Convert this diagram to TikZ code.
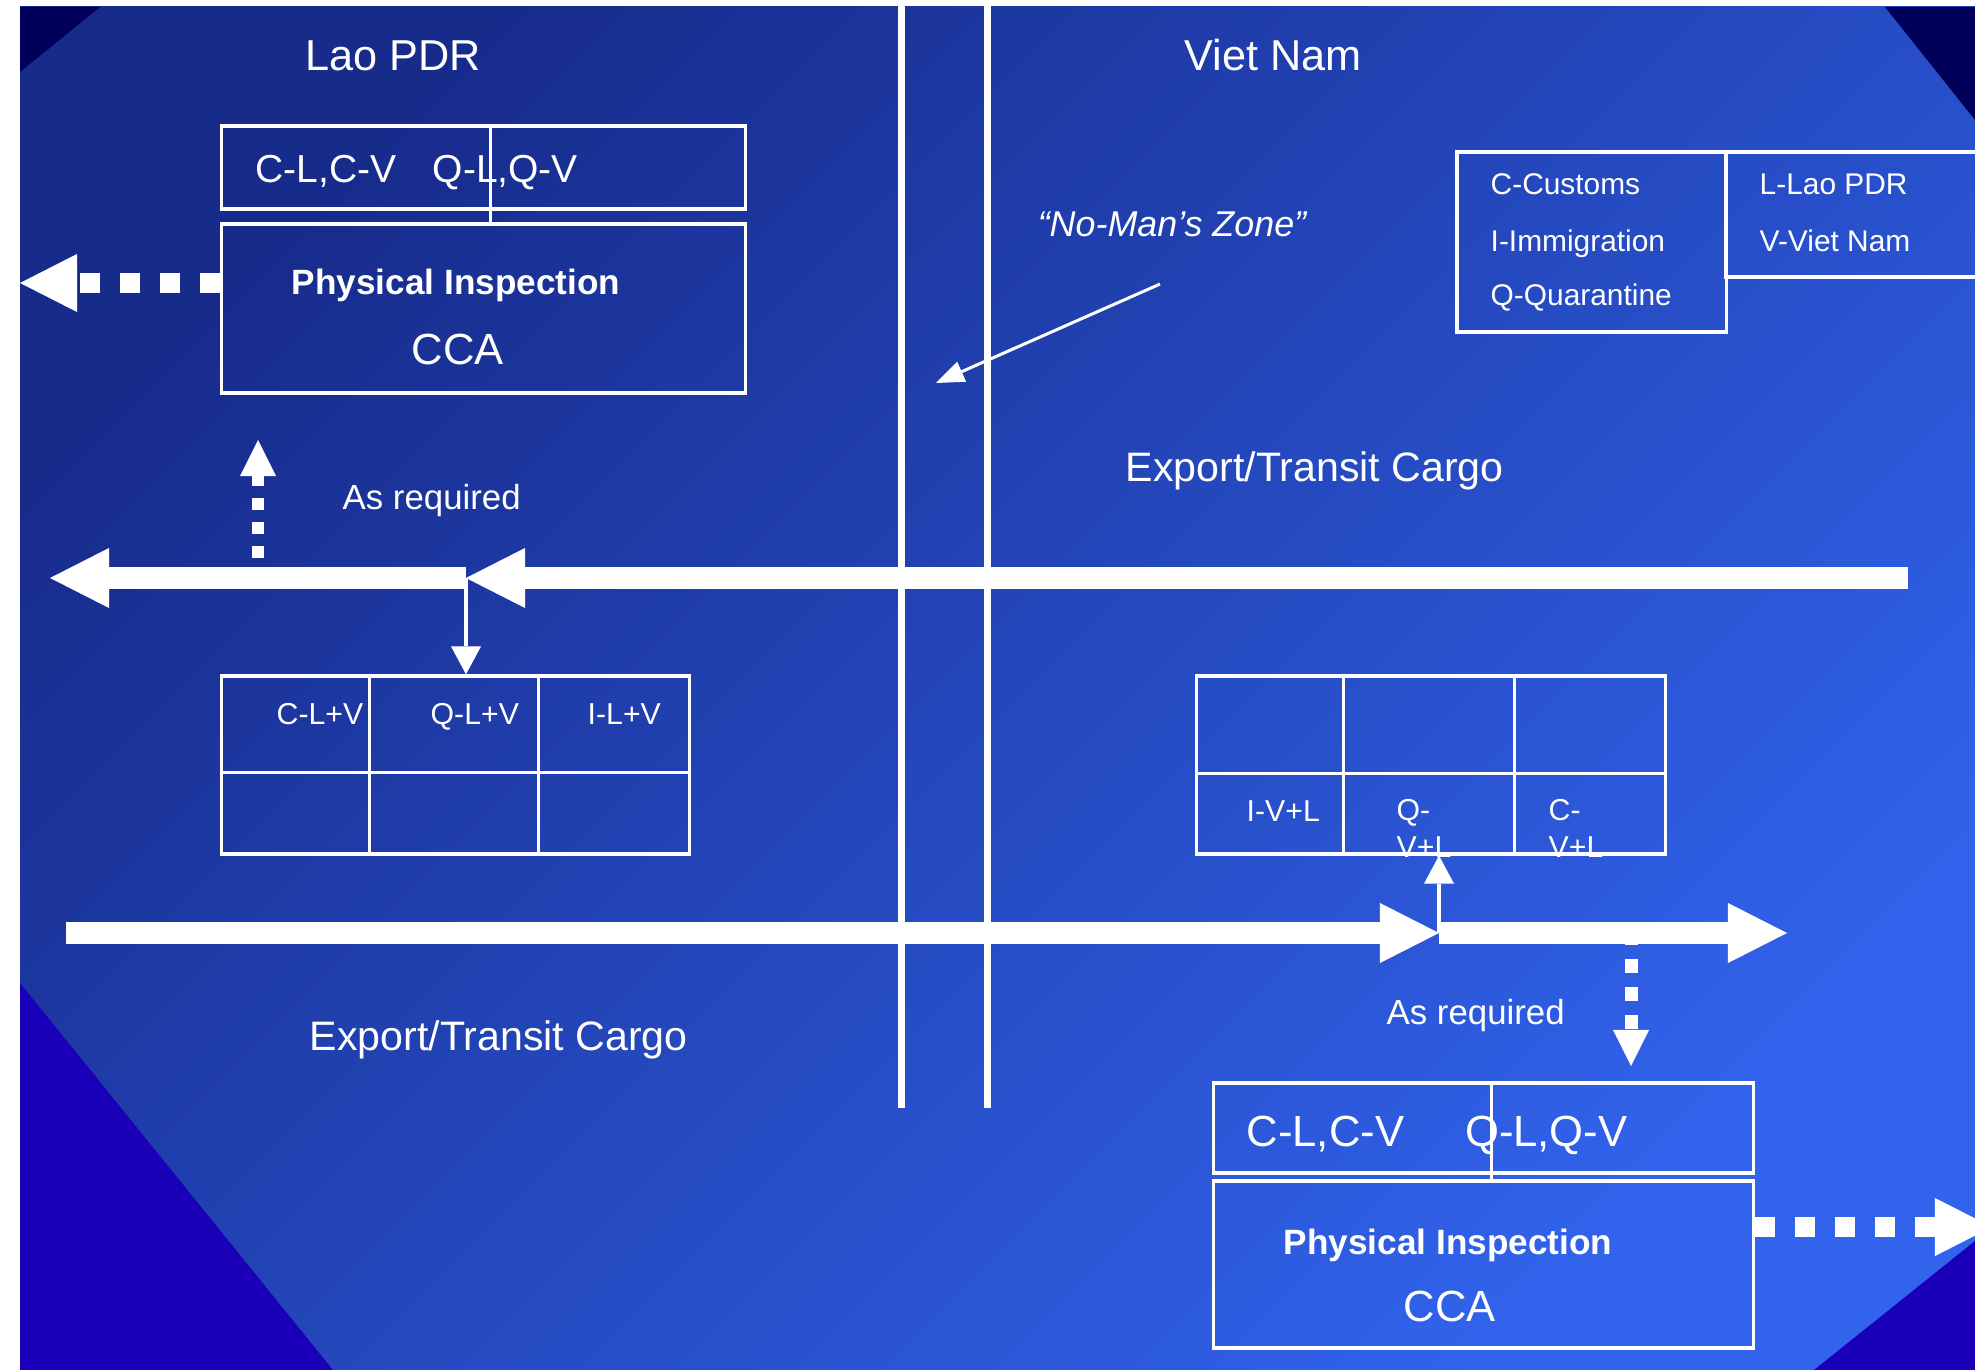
\documentclass[tikz,border=0pt]{standalone}
\usepackage{fontspec}
\setmainfont{Liberation Sans}
\usepackage{xcolor}
\usepackage{tikz}
\usetikzlibrary{
	arrows.meta,
	positioning
}

\definecolor{bgdark}{HTML}{172B8B}
\definecolor{bglight}{HTML}{3163EC}
\definecolor{cornernavy}{HTML}{00005A}
\definecolor{cornerviolet}{HTML}{1B00B9}

\newcommand{\fsz}[2]{\fontsize{#1}{#2}\selectfont}

\tikzset{
	cell/.style={draw=white, line width=0.9pt, inner sep=0pt},
	rule/.style={white, line width=0.9pt},
	txt/.style={text=white, inner sep=0pt},
	border/.style={white, line width=0.07cm},
	cargo/.style={white, line width=0.21cm, -{Triangle[length=5.9mm, width=6mm, line width=0pt]}},
	probe/.style={white, line width=0.045cm, -{Triangle[length=2.8mm, width=3mm, line width=0pt]}},
	pointer/.style={white, line width=0.03cm, -{Triangle[length=2.8mm, width=2.2mm, line width=0pt]}},
	asreq/.style={white, line width=0.12cm, dash pattern=on 0.12cm off 0.12cm, -{Triangle[length=3.6mm, width=3.6mm, line width=0pt]}},
	outflow/.style={white, line width=0.2cm, dash pattern=on 0.2cm off 0.2cm, -{Triangle[length=5.7mm, width=5.8mm, line width=0pt]}}
}

\begin{document}
\begin{tikzpicture}[x=0.01cm, y=-0.01cm]
	\useasboundingbox (0,0) rectangle (1975,1370);
	\clip (0,0) rectangle (1975,1370);
	% slide background
	\fill[white] (0,0) rectangle (1975,1370);
	\shade[top color=bgdark, bottom color=bglight, shading angle=45] (20,7) rectangle (1975,1370);
	\fill[cornernavy] (20,7) -- (100,7) -- (20,72) -- cycle;
	\fill[cornernavy] (1885,7) -- (1975,7) -- (1975,120) -- cycle;
	\fill[cornerviolet] (20,983) -- (333,1370) -- (20,1370) -- cycle;
	\fill[cornerviolet] (1975,1241) -- (1975,1370) -- (1814,1370) -- cycle;

	% the two border lines
	\draw[border] (901,0) -- (901,1108);
	\draw[border] (987,0) -- (987,1108);

	\node[txt, font=\fsz{12.3}{15}, anchor=base west] (lao) at (305,71) {Lao PDR};
	\node[txt, font=\fsz{12.3}{15}, anchor=base west] (viet) at (1184,71) {Viet Nam};

	% Lao side: physical inspection
	\node[cell, minimum width=5.23cm, minimum height=0.83cm] (lcodes) at (483.5,167.5) {};
	\node[cell, minimum width=5.23cm, minimum height=1.69cm] (lphys) at (483.5,308.5) {};
	\draw[rule] ([xshift=2.7cm]lcodes.north west) -- ([xshift=2.7cm]lphys.north west);
	\node[txt, font=\fsz{11.1}{13}, anchor=base west] (lcodestxt) at (255,183) {C-L,C-V\hspace{0.36cm}Q-L,Q-V};
	\node[txt, font=\fsz{10}{12}\bfseries, anchor=base] (lphystxt) at (456,295) {Physical Inspection};
	\node[txt, font=\fsz{12.4}{15}, anchor=base] (lcca) at (458,365) {CCA};

	% Viet side: physical inspection
	\node[cell, minimum width=5.39cm, minimum height=0.9cm] (rcodes) at (1483.5,1128) {};
	\node[cell, minimum width=5.39cm, minimum height=1.67cm] (rphys) at (1483.5,1264.5) {};
	\draw[rule] ([xshift=2.79cm]rcodes.north west) -- ([xshift=2.79cm]rphys.north west);
	\node[txt, font=\fsz{12.4}{15}, anchor=base west] (rcodestxt) at (1246,1146) {C-L,C-V\hspace{0.61cm}Q-L,Q-V};
	\node[txt, font=\fsz{10}{12}\bfseries, anchor=base] (rphystxt) at (1448,1254) {Physical Inspection};
	\node[txt, font=\fsz{12.4}{15}, anchor=base] (rcca) at (1450,1321) {CCA};

	% legend
	\node[cell, minimum width=2.69cm, minimum height=1.8cm] (legcode) at (1591.5,242) {};
	\node[cell, minimum width=2.74cm, minimum height=1.25cm] (legland) at (1863,214.5) {};
	\node[txt, font=\fsz{8.5}{10}, anchor=base west] (legc) at (1490,195) {C-Customs};
	\node[txt, font=\fsz{8.5}{10}, anchor=base west] (legi) at (1490,252) {I-Immigration};
	\node[txt, font=\fsz{8.5}{10}, anchor=base west] (legq) at (1490,306) {Q-Quarantine};
	\node[txt, font=\fsz{8.5}{10}, anchor=base west] (legl) at (1759,195) {L-Lao PDR};
	\node[txt, font=\fsz{8.5}{10}, anchor=base west] (legv) at (1759,252) {V-Viet Nam};

	% no-man's zone
	\node[txt, font=\fsz{10.2}{12}\itshape, anchor=base] (zone) at (1172,237) {“No-Man’s Zone”};
	\draw[pointer] ([xshift=-0.12cm, yshift=-0.46cm]zone.south) -- (936,383);

	% checkpoint tables
	\node[cell, minimum width=4.67cm, minimum height=1.78cm] (ltab) at (455.5,765) {};
	\foreach \dx in {1.49,3.18}
		\draw[rule] ([xshift=\dx cm]ltab.north west) -- ([xshift=\dx cm]ltab.south west);
	\draw[rule] ([yshift=-0.98cm]ltab.north west) -- ([yshift=-0.98cm]ltab.north east);
	\node[txt, font=\fsz{8.6}{10.5}, anchor=base west] (lc) at (276,725) {C-L+V};
	\node[txt, font=\fsz{8.6}{10.5}, anchor=base west] (lq) at (430,725) {Q-L+V};
	\node[txt, font=\fsz{8.6}{10.5}, anchor=base west] (li) at (587,725) {I-L+V};

	\node[cell, minimum width=4.68cm, minimum height=1.78cm] (rtab) at (1431,765) {};
	\foreach \dx in {1.48,3.19}
		\draw[rule] ([xshift=\dx cm]rtab.north west) -- ([xshift=\dx cm]rtab.south west);
	\draw[rule] ([yshift=-0.99cm]rtab.north west) -- ([yshift=-0.99cm]rtab.north east);
	\node[txt, font=\fsz{8.6}{10.5}, anchor=base west] (ri) at (1246,821) {I-V+L};
	\node[txt, font=\fsz{8.6}{10.5}, align=left, anchor=north west] (rq) at (1396,799) {Q-\\V+L};
	\node[txt, font=\fsz{8.6}{10.5}, align=left, anchor=north west] (rc) at (1548,799) {C-\\V+L};

	% cargo flows
	\coordinate (east1) at (1908,578);
	\coordinate (ljoin) at (466,578);
	\coordinate (west1) at (50,578);
	\draw[cargo] (east1) -- (ljoin);
	\draw[cargo] (ljoin) -- (west1);
	\draw[probe] (ljoin) -- (ljoin |- ltab.north);

	\coordinate (west2) at (66,933);
	\coordinate (rjoin) at (1439,933);
	\coordinate (east2) at (1787,933);
	\draw[cargo] (west2) -- (rjoin);
	\draw[cargo] (rjoin) -- (east2);
	\draw[probe] (rjoin) -- (rjoin |- rtab.south);

	% as required
	\coordinate (lup) at (258,440);
	\draw[asreq] (258,558) -- (lup);
	\coordinate (rdown) at (1631,1066);
	\draw[asreq, dash pattern=on 0.14cm off 0.14cm, line width=0.13cm] (1631,931) -- (rdown);
	\node[txt, font=\fsz{9.9}{12}, anchor=base west] (req1) at (342,510) {As required};
	\node[txt, font=\fsz{9.9}{12}, anchor=base west] (req2) at (1386,1024) {As required};

	% to the outside
	\coordinate (lout) at (20,283);
	\draw[outflow] (lphys.west |- lout) -- (lout);
	\coordinate (rout) at (1992,1227);
	\draw[outflow] (rphys.east |- rout) -- (rout);

	\node[txt, font=\fsz{11.7}{14}, anchor=base west] (exp1) at (1125,482) {Export/Transit Cargo};
	\node[txt, font=\fsz{11.7}{14}, anchor=base west] (exp2) at (309,1050) {Export/Transit Cargo};
\end{tikzpicture}
\end{document}
